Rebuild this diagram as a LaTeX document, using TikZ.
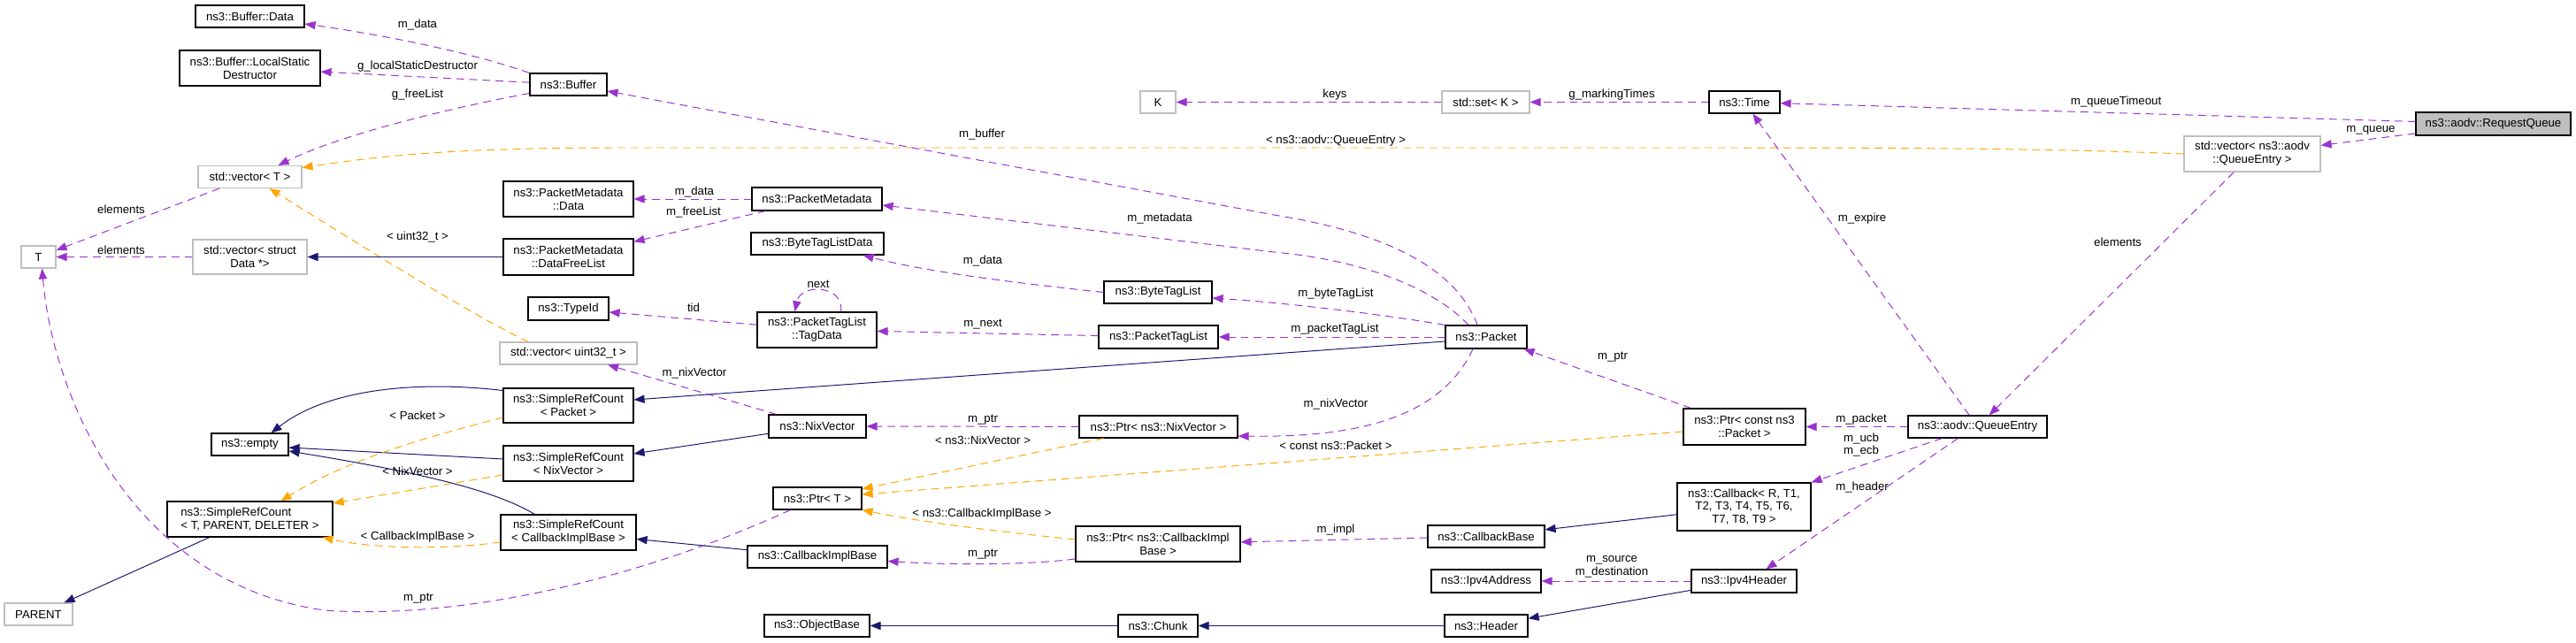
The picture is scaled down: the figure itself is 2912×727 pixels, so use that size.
\documentclass[tikz,border=0pt]{standalone}
\usepackage{fontspec}
\setmainfont{Liberation Sans}
\usetikzlibrary{arrows.meta}
\usetikzlibrary{calc}
\usepackage{color}

\definecolor{edgeuse}{RGB}{154,50,205}
\definecolor{edgeinh}{RGB}{25,25,112}
\definecolor{edgetpl}{RGB}{255,165,0}
\definecolor{grey75}{RGB}{191,191,191}

\tikzset{
  sz/.style 2 args={minimum width=#1*0.25mm, minimum height=#2*0.25mm},
  klass/.style={draw=black, line width=0.8pt, fill=white, inner sep=1pt, align=center, font=\fontsize{9.4}{10.6}\selectfont},
  undoc/.style={klass, draw=grey75},
  focus/.style={klass, fill=grey75},
  lbl/.style={inner sep=0pt, align=center, font=\fontsize{9.4}{10.6}\selectfont},
  member/.style={draw=edgeuse, line width=0.7pt, dash pattern=on 2.2mm off 1.5mm, -{Triangle[length=3mm,width=2.3mm]}},
  derive/.style={draw=edgeinh, line width=0.7pt, -{Triangle[length=3mm,width=2.3mm]}},
  tpl/.style={member, draw=edgetpl},
}

\begin{document}
\begin{tikzpicture}[x=0.025cm, y=-0.025cm]
        \useasboundingbox (0,0) rectangle (2912,727);

        % classes
        \node[focus, sz={175}{26}] (rq) at (2818.5,140) {ns3::aodv::RequestQueue};
        \node[undoc, sz={154}{40}] (vecqe) at (2546,174) {std::vector< ns3::aodv\\::QueueEntry >};
        \node[klass, sz={80}{25}] (time) at (1972,115.5) {ns3::Time};
        \node[undoc, sz={99}{25}] (setk) at (1679.5,115.5) {std::set< K >};
        \node[undoc, sz={40}{25}] (k) at (1309,115.5) {K};
        \node[klass, sz={157}{25}] (qe) at (2235.5,482.5) {ns3::aodv::QueueEntry};
        \node[klass, sz={138}{41}] (ptrcp) at (1972,482.5) {ns3::Ptr< const ns3\\::Packet >};
        \node[klass, sz={151}{54}] (cb) at (1971.5,573) {ns3::Callback< R, T1,\\T2, T3, T4, T5, T6,\\T7, T8, T9 >};
        \node[klass, sz={119}{26}] (ipv4h) at (1971.5,657) {ns3::Ipv4Header};
        \node[klass, sz={92}{26}] (packet) at (1680,381) {ns3::Packet};
        \node[klass, sz={132}{25}] (cbbase) at (1680,606.5) {ns3::CallbackBase};
        \node[klass, sz={124}{26}] (ipv4a) at (1680,657) {ns3::Ipv4Address};
        \node[klass, sz={94}{25}] (header) at (1680,707.5) {ns3::Header};
        \node[klass, sz={122}{25}] (btl) at (1309,330.5) {ns3::ByteTagList};
        \node[klass, sz={135}{26}] (ptl) at (1309.5,381) {ns3::PacketTagList};
        \node[klass, sz={179}{25}] (ptrnix) at (1309.5,482.5) {ns3::Ptr< ns3::NixVector >};
        \node[klass, sz={186}{40}] (ptrcib) at (1309,615) {ns3::Ptr< ns3::CallbackImpl\\Base >};
        \node[klass, sz={90}{25}] (chunk) at (1309,707.5) {ns3::Chunk};
        \node[klass, sz={147}{26}] (pm) at (923.5,225) {ns3::PacketMetadata};
        \node[klass, sz={150}{25}] (btld) at (924,275.5) {ns3::ByteTagListData};
        \node[klass, sz={135}{40}] (tagdata) at (923.5,373) {ns3::PacketTagList\\::TagData};
        \node[klass, sz={110}{26}] (nix) at (924,482) {ns3::NixVector};
        \node[klass, sz={100}{25}] (ptrt) at (924,563.5) {ns3::Ptr< T >};
        \node[klass, sz={158}{25}] (cib) at (924,629.5) {ns3::CallbackImplBase};
        \node[klass, sz={119}{25}] (objbase) at (923.5,707.5) {ns3::ObjectBase};
        \node[klass, sz={87}{25}] (buffer) at (642.5,95.5) {ns3::Buffer};
        \node[klass, sz={147}{40}] (pmdata) at (642.5,225) {ns3::PacketMetadata\\::Data};
        \node[klass, sz={147}{41}] (freelist) at (642.5,290.5) {ns3::PacketMetadata\\::DataFreeList};
        \node[klass, sz={91}{26}] (typeid) at (642.5,349) {ns3::TypeId};
        \node[undoc, sz={155}{25}] (vecu32) at (642.5,399.5) {std::vector< uint32\_t >};
        \node[klass, sz={147}{39}] (srcpkt) at (642.5,458.5) {ns3::SimpleRefCount\\< Packet >};
        \node[klass, sz={147}{40}] (srcnix) at (642.5,524) {ns3::SimpleRefCount\\< NixVector >};
        \node[klass, sz={153}{40}] (srccib) at (642.5,602) {ns3::SimpleRefCount\\< CallbackImplBase >};
        \node[klass, sz={123}{25}] (bufdata) at (282.5,18.5) {ns3::Buffer::Data};
        \node[klass, sz={159}{40}] (lsd) at (282.5,77) {ns3::Buffer::LocalStatic\\Destructor};
        \node[undoc, sz={117}{25}] (vect) at (282.5,200) {std::vector< T >};
        \node[undoc, sz={129}{39}] (vecdata) at (282.5,290.5) {std::vector< struct\\Data *>};
        \node[klass, sz={87}{25}] (empty) at (282.5,502.5) {ns3::empty};
        \node[klass, sz={187}{40}, align=left] (srct) at (282.5,587) {ns3::SimpleRefCount\\< T, PARENT, DELETER >};
        \node[undoc, sz={39}{25}] (t) at (43.5,290.5) {T};
        \node[undoc, sz={77}{25}] (parent) at (43.5,694.5) {PARENT};

        % members of the queue side
        \draw[member] (rq) -- (time);
        \node[lbl] (lqt) at (2392,115) {m\_queueTimeout};
        \draw[member] (rq) -- (vecqe);
        \node[lbl] (lq) at (2680,147) {m\_queue};
        \draw[member] (vecqe) -- (qe);
        \node[lbl] (lel3) at (2394,274) {elements};
        \draw[tpl] (vecqe.west) .. controls (2300,167) and (2100,167) .. (1900,167) -- (700,167) .. controls (500,167) and (420,178) .. (vect.10);
        \node[lbl] (lqet) at (1510,159) {< ns3::aodv::QueueEntry >};
        \draw[member] (time) -- (setk);
        \node[lbl] (lmt) at (1822,107) {g\_markingTimes};
        \draw[member] (setk) -- (k);
        \node[lbl] (lk) at (1509,107) {keys};
        \draw[member] (qe) -- (time);
        \node[lbl] (lexp) at (2105,247) {m\_expire};
        \draw[member] (qe) -- (ptrcp);
        \node[lbl] (lpk) at (2104,474) {m\_packet};
        \draw[member] ($(qe.south)+(-40,0)$) -- (cb.north east);
        \node[lbl] (lcb) at (2104,503) {m\_ucb\\m\_ecb};
        \draw[member] ($(qe.south)+(-22,0)$) -- ($(ipv4h.north)+(25,0)$);
        \node[lbl] (lhd) at (2105,551) {m\_header};
        \draw[member] ($(ptrcp.north west)+(9,0)$) -- ($(packet.south east)+(-4,0)$);
        \node[lbl] (lptr1) at (1823,404) {m\_ptr};
        \draw[tpl] ($(ptrcp.west)+(0,5.5)$) -- ($(ptrt.east)+(0,-4.5)$);
        \node[lbl] (lcp) at (1510,504) {< const ns3::Packet >};
        \draw[derive] (cb) -- (cbbase);
        \draw[member] (ipv4h) -- (ipv4a);
        \node[lbl] (lsd2) at (1822,641) {m\_source\\m\_destination};
        \draw[derive] (ipv4h) -- (header);
        \draw[derive] (header) -- (chunk);
        \draw[derive] (chunk) -- (objbase);

        % callbacks
        \draw[member] (cbbase) -- (ptrcib);
        \node[lbl] (limpl) at (1510,599) {m\_impl};
        \draw[member] ($(ptrcib.west)+(0,17)$) .. controls (1150,640) and (1060,638) .. ($(cib.east)+(0,5)$);
        \node[lbl] (lptr2) at (1111,627) {m\_ptr};
        \draw[tpl] ($(ptrcib.west)+(0,-5)$) .. controls (1100,598) and (1030,588) .. (ptrt.south east);
        \node[lbl] (lcibt) at (1110,581) {< ns3::CallbackImplBase >};
        \draw[derive] (cib) -- (srccib);
        \draw[tpl] ($(srccib.west)+(0,11)$) .. controls (500,622) and (420,620) .. ($(srct.south east)+(-12,0)$);
        \node[lbl] (lcibs) at (472,607) {< CallbackImplBase >};
        \draw[derive] ($(srccib.north)+(-38,0)$) .. controls (560,555) and (480,535) .. ($(empty.east)+(0,7.5)$);
        \draw[derive] ($(srcnix.west)+(0,-5)$) -- ($(empty.east)+(0,3.5)$);
        \draw[derive] ($(srcpkt.west)+(0,-17)$) .. controls (470,430) and (370,440) .. ($(empty.north east)+(-20,0)$);
        \draw[tpl] ($(srcpkt.west)+(0,13.5)$) .. controls (500,490) and (400,515) .. ($(srct.north)+(35,0)$);
        \node[lbl] (lpkt) at (472,470) {< Packet >};
        \draw[tpl] ($(srcnix.west)+(0,13)$) -- ($(srct.east)+(0,-18)$);
        \node[lbl] (lnixs) at (472,533) {< NixVector >};
        \draw[derive] (srct) -- (parent);

        % packet
        \draw[derive] ($(packet.west)+(0,5)$) -- ($(srcpkt.east)+(0,-6.5)$);
        \draw[member] ($(packet.north)+(-10,0)$) .. controls (1645,300) and (1560,262) .. (1440,243) -- ($(buffer.east)+(0,7.5)$);
        \node[lbl] (lbuf) at (1110,152) {m\_buffer};
        \draw[member] ($(packet.north)+(-20,0)$) .. controls (1630,335) and (1560,296) .. (1440,285) -- ($(pm.east)+(0,7)$);
        \node[lbl] (lmeta) at (1311,247) {m\_metadata};
        \draw[member] (packet.north west) .. controls (1560,355) and (1450,342) .. ($(btl.east)+(0,6.5)$);
        \node[lbl] (lbtl) at (1510,332) {m\_byteTagList};
        \draw[member] (packet) -- (ptl);
        \node[lbl] (lptl) at (1509,372) {m\_packetTagList};
        \draw[member] ($(packet.south)+(-15,0)$) .. controls (1630,470) and (1540,495) .. ($(ptrnix.east)+(0,10.5)$);
        \node[lbl] (lnix1) at (1510,457) {m\_nixVector};

        % buffer and metadata
        \draw[member] (buffer.north west) .. controls (540,62) and (450,42) .. ($(bufdata.east)+(0,8.5)$);
        \node[lbl] (ldata1) at (472,28) {m\_data};
        \draw[member] (buffer) -- (lsd);
        \node[lbl] (llsd) at (472,75) {g\_localStaticDestructor};
        \draw[member] ($(buffer.west)+(0,10)$) .. controls (520,120) and (390,150) .. ($(vect.north)+(32,0)$);
        \node[lbl] (lfree1) at (472,107) {g\_freeList};
        \draw[member] (vect) -- (t);
        \node[lbl] (lel1) at (137,237) {elements};
        \draw[member] (vecdata) -- (t);
        \node[lbl] (lel2) at (137,283) {elements};
        \draw[tpl] ($(vecu32.north)+(-45,0)$) .. controls (540,360) and (420,285) .. ($(vect.south)+(22,0)$);
        \node[lbl] (lu32) at (472,268) {< uint32\_t >};
        \draw[derive] (freelist) -- (vecdata);
        \draw[member] (pm) -- (pmdata);
        \node[lbl] (ldata2) at (785,217) {m\_data};
        \draw[member] (pm) -- (freelist);
        \node[lbl] (lfree2) at (784,240) {m\_freeList};

        % tags and nix vector
        \draw[member] (btl.west) .. controls (1150,320) and (1050,308) .. ($(btld.south east)+(-24,0)$);
        \node[lbl] (ldata3) at (1111,295) {m\_data};
        \draw[member] (ptl) -- (tagdata);
        \node[lbl] (lnext1) at (1111,367) {m\_next};
        \draw[member] ($(tagdata.north)+(27,0)$) .. controls (955,322) and (905,320) .. ($(tagdata.north)+(-25,0)$);
        \node[lbl] (lnext2) at (925,321) {next};
        \draw[member] (tagdata) -- (typeid);
        \node[lbl] (ltid) at (784,348) {tid};
        \draw[member] (nix) -- (vecu32);
        \node[lbl] (lnix2) at (785,422) {m\_nixVector};
        \draw[derive] (nix) -- (srcnix);
        \draw[member] (ptrnix) -- (nix);
        \node[lbl] (lptr3) at (1111,475) {m\_ptr};
        \draw[tpl] (ptrnix) -- (ptrt);
        \node[lbl] (lnixt) at (1111,498) {< ns3::NixVector >};
        \draw[member] ($(ptrt.south west)+(20,0)$) .. controls (700,665) and (500,700) .. (367,690) .. controls (150,660) and (60,450) .. ($(t.south)+(4,0)$);
        \node[lbl] (lptr4) at (473,677) {m\_ptr};
\end{tikzpicture}
\end{document}
